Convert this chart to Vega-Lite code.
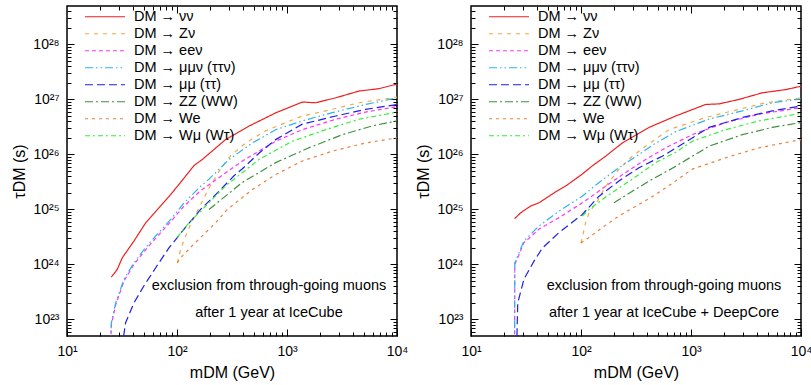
{
  "$schema": "https://vega.github.io/schema/vega-lite/v6.json",
  "padding": {"left": 11, "top": 3, "right": 0, "bottom": 0},
  "config": {
    "font": "Liberation Sans",
    "view": {"stroke": "black", "strokeWidth": 1.5},
    "axis": {"grid": false, "domain": false, "tickColor": "black", "labelColor": "black", "titleColor": "black", "labelFontSize": 14, "titleFontSize": 16, "titleFontWeight": "normal", "labelOverlap": false, "labelFlush": false, "tickWidth": 1},
    "legend": {"title": null, "orient": "none", "legendX": 17, "legendY": 4, "padding": 0, "symbolType": "stroke", "symbolSize": 1600, "symbolStrokeWidth": 1.2, "labelFontSize": 14.5, "labelOffset": 8, "rowPadding": 1, "clipHeight": 13.5, "labelColor": "black"}
  },
  "datasets": {
    "L": [
      {"s":"DM → νν","m":25.3,"t":5.9e23},{"s":"DM → νν","m":28.6,"t":8.1e23},{"s":"DM → νν","m":31.8,"t":1.32e24},{"s":"DM → νν","m":40.6,"t":2.66e24},{"s":"DM → νν","m":51.9,"t":5.7e24},{"s":"DM → νν","m":68.5,"t":1.07e25},{"s":"DM → νν","m":87.7,"t":1.87e25},{"s":"DM → νν","m":111.7,"t":3.39e25},{"s":"DM → νν","m":142.9,"t":6.3e25},{"s":"DM → νν","m":169.8,"t":8.1e25},{"s":"DM → νν","m":277,"t":1.87e26},{"s":"DM → νν","m":452,"t":3.28e26},{"s":"DM → νν","m":789,"t":5.7e26},{"s":"DM → νν","m":1377,"t":8.97e26},{"s":"DM → νν","m":1824,"t":8.7e26},{"s":"DM → νν","m":2773,"t":1.07e27},{"s":"DM → νν","m":4519,"t":1.42e27},{"s":"DM → νν","m":6855,"t":1.57e27},{"s":"DM → νν","m":10000,"t":1.9e27},
      {"s":"DM → Zν","m":100.7,"t":1.07e24},{"s":"DM → Zν","m":107.9,"t":1.86e24},{"s":"DM → Zν","m":115.9,"t":2.8e24},{"s":"DM → Zν","m":131.2,"t":5.0e24},{"s":"DM → Zν","m":158.5,"t":1.07e25},{"s":"DM → Zν","m":195.4,"t":2.45e25},{"s":"DM → Zν","m":249.5,"t":5.5e25},{"s":"DM → Zν","m":307.6,"t":9.5e25},{"s":"DM → Zν","m":420.7,"t":1.62e26},{"s":"DM → Zν","m":639.7,"t":2.69e26},{"s":"DM → Zν","m":1377,"t":5.0e26},{"s":"DM → Zν","m":2249,"t":6.2e26},{"s":"DM → Zν","m":4519,"t":8.7e26},{"s":"DM → Zν","m":10000,"t":1.1e27},
      {"s":"DM → eeν","m":24.9,"t":3e22},{"s":"DM → eeν","m":25.3,"t":8e22},{"s":"DM → eeν","m":27.7,"t":1.85e23},{"s":"DM → eeν","m":33.0,"t":5.0e23},{"s":"DM → eeν","m":40.6,"t":1.0e24},{"s":"DM → eeν","m":50.1,"t":1.7e24},{"s":"DM → eeν","m":64,"t":3.0e24},{"s":"DM → eeν","m":87.7,"t":6.0e24},{"s":"DM → eeν","m":115.9,"t":1.15e25},{"s":"DM → eeν","m":164,"t":2.2e25},{"s":"DM → eeν","m":195.4,"t":2.82e25},{"s":"DM → eeν","m":393,"t":7.6e25},{"s":"DM → eeν","m":789,"t":1.74e26},{"s":"DM → eeν","m":1377,"t":2.82e26},{"s":"DM → eeν","m":2773,"t":4.37e26},{"s":"DM → eeν","m":5188,"t":5.9e26},{"s":"DM → eeν","m":10000,"t":7.4e26},
      {"s":"DM → μμν (ττν)","m":24.9,"t":3e22},{"s":"DM → μμν (ττν)","m":25.3,"t":8.7e22},{"s":"DM → μμν (ττν)","m":27.7,"t":2.0e23},{"s":"DM → μμν (ττν)","m":33.0,"t":5.4e23},{"s":"DM → μμν (ττν)","m":40.6,"t":1.07e24},{"s":"DM → μμν (ττν)","m":50.1,"t":1.86e24},{"s":"DM → μμν (ττν)","m":64.0,"t":3.3e24},{"s":"DM → μμν (ττν)","m":87.7,"t":6.6e24},{"s":"DM → μμν (ττν)","m":115.9,"t":1.32e25},{"s":"DM → μμν (ττν)","m":164,"t":2.63e25},{"s":"DM → μμν (ττν)","m":195.4,"t":3.55e25},{"s":"DM → μμν (ττν)","m":297,"t":8.1e25},{"s":"DM → μμν (ττν)","m":484,"t":1.62e26},{"s":"DM → μμν (ττν)","m":789,"t":2.82e26},{"s":"DM → μμν (ττν)","m":1377,"t":4.07e26},{"s":"DM → μμν (ττν)","m":2582,"t":5.75e26},{"s":"DM → μμν (ττν)","m":5188,"t":8.1e26},{"s":"DM → μμν (ττν)","m":10000,"t":1.07e27},
      {"s":"DM → μμ (ττ)","m":31.5,"t":3e22},{"s":"DM → μμ (ττ)","m":34.1,"t":8.7e22},{"s":"DM → μμ (ττ)","m":40.6,"t":2.0e23},{"s":"DM → μμ (ττ)","m":50.1,"t":4.1e23},{"s":"DM → μμ (ττ)","m":64.0,"t":8.7e23},{"s":"DM → μμ (ττ)","m":84.5,"t":2.0e24},{"s":"DM → μμ (ττ)","m":115.9,"t":4.4e24},{"s":"DM → μμ (ττ)","m":164,"t":1.0e25},{"s":"DM → μμ (ττ)","m":233,"t":2.0e25},{"s":"DM → μμ (ττ)","m":330,"t":4.1e25},{"s":"DM → μμ (ττ)","m":393,"t":5.5e25},{"s":"DM → μμ (ττ)","m":562,"t":1.07e26},{"s":"DM → μμ (ττ)","m":789,"t":1.86e26},{"s":"DM → μμ (ττ)","m":1377,"t":3.55e26},{"s":"DM → μμ (ττ)","m":2773,"t":5.0e26},{"s":"DM → μμ (ττ)","m":5188,"t":6.6e26},{"s":"DM → μμ (ττ)","m":10000,"t":8.1e26},
      {"s":"DM → ZZ (WW)","m":195.4,"t":1.0e25},{"s":"DM → ZZ (WW)","m":393,"t":3.1e25},{"s":"DM → ZZ (WW)","m":789,"t":7.1e25},{"s":"DM → ZZ (WW)","m":1585,"t":1.32e26},{"s":"DM → ZZ (WW)","m":3184,"t":2.29e26},{"s":"DM → ZZ (WW)","m":5970,"t":3.31e26},{"s":"DM → ZZ (WW)","m":10000,"t":4.07e26},
      {"s":"DM → We","m":100.7,"t":1.07e24},{"s":"DM → We","m":107.9,"t":1.32e24},{"s":"DM → We","m":137.7,"t":2.2e24},{"s":"DM → We","m":169.8,"t":3.3e24},{"s":"DM → We","m":224.9,"t":5.75e24},{"s":"DM → We","m":287.1,"t":1.0e25},{"s":"DM → We","m":484,"t":2.3e25},{"s":"DM → We","m":789,"t":4.3e25},{"s":"DM → We","m":1377,"t":7.6e25},{"s":"DM → We","m":2582,"t":1.15e26},{"s":"DM → We","m":5188,"t":1.62e26},{"s":"DM → We","m":10000,"t":2.0e26},
      {"s":"DM → Wμ (Wτ)","m":100.7,"t":3.1e24},{"s":"DM → Wμ (Wτ)","m":128.5,"t":5.75e24},{"s":"DM → Wμ (Wτ)","m":169.8,"t":1.0e25},{"s":"DM → Wμ (Wτ)","m":277,"t":2.7e25},{"s":"DM → Wμ (Wτ)","m":556,"t":8.1e25},{"s":"DM → Wμ (Wτ)","m":1117,"t":1.74e26},{"s":"DM → Wμ (Wτ)","m":2249,"t":2.82e26},{"s":"DM → Wμ (Wτ)","m":4519,"t":4.37e26},{"s":"DM → Wμ (Wτ)","m":10000,"t":5.9e26}
    ],
    "R": [
      {"s":"DM → νν","m":24.9,"t":6.8e24},{"s":"DM → νν","m":28.3,"t":8.7e24},{"s":"DM → νν","m":34.8,"t":1.15e25},{"s":"DM → νν","m":41.5,"t":1.32e25},{"s":"DM → νν","m":56.9,"t":2.0e25},{"s":"DM → νν","m":75.2,"t":2.8e25},{"s":"DM → νν","m":102.8,"t":4.4e25},{"s":"DM → νν","m":126.8,"t":6.2e25},{"s":"DM → νν","m":167.5,"t":9.3e25},{"s":"DM → νν","m":237.7,"t":1.62e26},{"s":"DM → νν","m":415,"t":3.1e26},{"s":"DM → νν","m":726,"t":5.0e26},{"s":"DM → νν","m":1358,"t":8.1e26},{"s":"DM → νν","m":1799,"t":8.3e26},{"s":"DM → νν","m":2729,"t":1.0e27},{"s":"DM → νν","m":4446,"t":1.32e27},{"s":"DM → νν","m":7261,"t":1.51e27},{"s":"DM → νν","m":10000,"t":1.74e27},
      {"s":"DM → Zν","m":100,"t":2.45e24},{"s":"DM → Zν","m":110.2,"t":5.75e24},{"s":"DM → Zν","m":118.3,"t":8.7e24},{"s":"DM → Zν","m":140.6,"t":1.41e25},{"s":"DM → Zν","m":167.5,"t":2.63e25},{"s":"DM → Zν","m":221.3,"t":5.4e25},{"s":"DM → Zν","m":293,"t":9.3e25},{"s":"DM → Zν","m":387,"t":1.41e26},{"s":"DM → Zν","m":631,"t":2.82e26},{"s":"DM → Zν","m":1358,"t":4.7e26},{"s":"DM → Zν","m":2729,"t":6.6e26},{"s":"DM → Zν","m":4775,"t":8.7e26},{"s":"DM → Zν","m":10000,"t":1.07e27},
      {"s":"DM → eeν","m":24.9,"t":3e22},{"s":"DM → eeν","m":25,"t":1.0e24},{"s":"DM → eeν","m":27.3,"t":1.5e24},{"s":"DM → eeν","m":30.3,"t":2.5e24},{"s":"DM → eeν","m":33.7,"t":3.0e24},{"s":"DM → eeν","m":41.5,"t":4.4e24},{"s":"DM → eeν","m":63.1,"t":7.1e24},{"s":"DM → eeν","m":102.8,"t":1.32e25},{"s":"DM → eeν","m":167.5,"t":2.63e25},{"s":"DM → eeν","m":254.7,"t":4.7e25},{"s":"DM → eeν","m":387,"t":8.1e25},{"s":"DM → eeν","m":589,"t":1.32e26},{"s":"DM → eeν","m":1028,"t":2.29e26},{"s":"DM → eeν","m":2065,"t":3.8e26},{"s":"DM → eeν","m":4150,"t":5.4e26},{"s":"DM → eeν","m":10000,"t":7.1e26},
      {"s":"DM → μμν (ττν)","m":24.9,"t":3e22},{"s":"DM → μμν (ττν)","m":25,"t":1.07e24},{"s":"DM → μμν (ττν)","m":27.3,"t":1.62e24},{"s":"DM → μμν (ττν)","m":30.3,"t":2.7e24},{"s":"DM → μμν (ττν)","m":33.7,"t":3.3e24},{"s":"DM → μμν (ττν)","m":41.5,"t":5.0e24},{"s":"DM → μμν (ττν)","m":63.1,"t":9.3e24},{"s":"DM → μμν (ττν)","m":102.8,"t":1.74e25},{"s":"DM → μμν (ττν)","m":145.9,"t":3.1e25},{"s":"DM → μμν (ττν)","m":221.3,"t":5.75e25},{"s":"DM → μμν (ττν)","m":336.5,"t":1.0e26},{"s":"DM → μμν (ττν)","m":447,"t":1.48e26},{"s":"DM → μμν (ττν)","m":726,"t":2.6e26},{"s":"DM → μμν (ττν)","m":1459,"t":4.4e26},{"s":"DM → μμν (ττν)","m":2931,"t":6.2e26},{"s":"DM → μμν (ττν)","m":5483,"t":8.7e26},{"s":"DM → μμν (ττν)","m":10000,"t":1.02e27},
      {"s":"DM → μμ (ττ)","m":26,"t":3e22},{"s":"DM → μμ (ττ)","m":26.6,"t":2.0e23},{"s":"DM → μμ (ττ)","m":30.3,"t":5.4e23},{"s":"DM → μμ (ττ)","m":37.4,"t":1.15e24},{"s":"DM → μμ (ττ)","m":44.7,"t":2.0e24},{"s":"DM → μμ (ττ)","m":63.1,"t":3.8e24},{"s":"DM → μμ (ττ)","m":102.8,"t":8.1e24},{"s":"DM → μμ (ττ)","m":145.9,"t":1.74e25},{"s":"DM → μμ (ττ)","m":221.3,"t":3.3e25},{"s":"DM → μμ (ττ)","m":336.5,"t":5.75e25},{"s":"DM → μμ (ττ)","m":548,"t":9.3e25},{"s":"DM → μμ (ττ)","m":726,"t":1.3e26},{"s":"DM → μμ (ττ)","m":1459,"t":3.1e26},{"s":"DM → μμ (ττ)","m":2931,"t":4.7e26},{"s":"DM → μμ (ττ)","m":5483,"t":6.2e26},{"s":"DM → μμ (ττ)","m":10000,"t":7.6e26},
      {"s":"DM → ZZ (WW)","m":199.5,"t":1.32e25},{"s":"DM → ZZ (WW)","m":293,"t":2.14e25},{"s":"DM → ZZ (WW)","m":445,"t":3.55e25},{"s":"DM → ZZ (WW)","m":676,"t":5.6e25},{"s":"DM → ZZ (WW)","m":1459,"t":1.41e26},{"s":"DM → ZZ (WW)","m":2931,"t":2.29e26},{"s":"DM → ZZ (WW)","m":5483,"t":3.1e26},{"s":"DM → ZZ (WW)","m":10000,"t":3.8e26},
      {"s":"DM → We","m":100,"t":2.45e24},{"s":"DM → We","m":118.3,"t":3.1e24},{"s":"DM → We","m":156.3,"t":4.7e24},{"s":"DM → We","m":221.3,"t":7.6e24},{"s":"DM → We","m":336.5,"t":1.23e25},{"s":"DM → We","m":477.5,"t":1.86e25},{"s":"DM → We","m":676,"t":3.0e25},{"s":"DM → We","m":1028,"t":5.4e25},{"s":"DM → We","m":2065,"t":8.7e25},{"s":"DM → We","m":4150,"t":1.32e26},{"s":"DM → We","m":10000,"t":1.86e26},
      {"s":"DM → Wμ (Wτ)","m":102.8,"t":7.6e24},{"s":"DM → Wμ (Wτ)","m":118.3,"t":1.0e25},{"s":"DM → Wμ (Wτ)","m":180,"t":1.86e25},{"s":"DM → Wμ (Wτ)","m":293,"t":3.55e25},{"s":"DM → Wμ (Wτ)","m":477.5,"t":7.1e25},{"s":"DM → Wμ (Wτ)","m":726,"t":1.1e26},{"s":"DM → Wμ (Wτ)","m":1028,"t":1.74e26},{"s":"DM → Wμ (Wτ)","m":2065,"t":2.82e26},{"s":"DM → Wμ (Wτ)","m":4150,"t":4.07e26},{"s":"DM → Wμ (Wτ)","m":10000,"t":5.6e26}
    ],
    "TL": [
      {"m": 686, "t": 4.1e23, "txt": "exclusion from through-going muons"},
      {"m": 686, "t": 1.32e23, "txt": "after 1 year at IceCube"}
    ],
    "TR": [
      {"m": 569, "t": 4.1e23, "txt": "exclusion from through-going muons"},
      {"m": 569, "t": 1.32e23, "txt": "after 1 year at IceCube + DeepCore"}
    ]
  },
  "spacing": 74,
  "bounds": "flush",
  "resolve": {"legend": {"color": "independent", "strokeDash": "independent"}},
  "hconcat": [
    {
      "width": 330, "height": 330,
      "resolve": {"scale": {"x": "independent", "y": "independent"}, "axis": {"x": "independent", "y": "independent"}},
      "layer": [
        {
          "layer": [
            {
              "data": {"name": "L"},
              "mark": {"type": "line", "clip": true, "strokeWidth": 1.2},
              "encoding": {
                "x": {"field": "m", "type": "quantitative", "scale": {"type": "log", "domain": [10, 10000], "nice": false},
                  "axis": {"values": [10,20,30,40,50,60,70,80,90,100,200,300,400,500,600,700,800,900,1000,2000,3000,4000,5000,6000,7000,8000,9000,10000],
                    "labelExpr": "abs(log(datum.value)/LN10 - round(log(datum.value)/LN10)) < 0.001 ? ['10¹','10²','10³','10⁴'][round(log(datum.value)/LN10)-1] : ''",
                    "tickSize": {"condition": {"test": "abs(log(datum.value)/LN10 - round(log(datum.value)/LN10)) < 0.001", "value": -7}, "value": -4},
                    "labelPadding": 15, "title": "mDM (GeV)", "titlePadding": 3}},
                "y": {"field": "t", "type": "quantitative", "scale": {"type": "log", "domain": [5e22, 5e28], "nice": false},
                  "axis": {"values": [6e22,7e22,8e22,9e22,1e23,2e23,3e23,4e23,5e23,6e23,7e23,8e23,9e23,1e24,2e24,3e24,4e24,5e24,6e24,7e24,8e24,9e24,1e25,2e25,3e25,4e25,5e25,6e25,7e25,8e25,9e25,1e26,2e26,3e26,4e26,5e26,6e26,7e26,8e26,9e26,1e27,2e27,3e27,4e27,5e27,6e27,7e27,8e27,9e27,1e28,2e28,3e28,4e28],
                    "labelExpr": "abs(log(datum.value)/LN10 - round(log(datum.value)/LN10)) < 0.001 ? ['10²³','10²⁴','10²⁵','10²⁶','10²⁷','10²⁸'][round(log(datum.value)/LN10)-23] : ''",
                    "tickSize": {"condition": {"test": "abs(log(datum.value)/LN10 - round(log(datum.value)/LN10)) < 0.001", "value": -7}, "value": -4},
                    "labelPadding": 15, "title": "τDM (s)", "titlePadding": 5}},
                "color": {"field": "s", "type": "nominal",
                  "scale": {"domain": ["DM → νν","DM → Zν","DM → eeν","DM → μμν (ττν)","DM → μμ (ττ)","DM → ZZ (WW)","DM → We","DM → Wμ (Wτ)"],
                    "range": ["#f01e1e","#f4a742","#ff33ff","#2bb3ee","#1f1fe6","#3e913e","#e8823c","#33f033"]}},
                "strokeDash": {"field": "s", "type": "nominal",
                  "scale": {"domain": ["DM → νν","DM → Zν","DM → eeν","DM → μμν (ττν)","DM → μμ (ττ)","DM → ZZ (WW)","DM → We","DM → Wμ (Wτ)"],
                    "range": [[1,0],[4,5],[4,3],[8,3,1.5,3,1.5,3],[8,4],[8,3,2,3],[3,4],[5,3,2,3]]}}
              }
            },
            {
              "data": {"name": "TL"},
              "mark": {"type": "text", "fontSize": 14.5, "color": "black"},
              "encoding": {
                "x": {"field": "m", "type": "quantitative", "scale": {"type": "log", "domain": [10, 10000], "nice": false}},
                "y": {"field": "t", "type": "quantitative", "scale": {"type": "log", "domain": [5e22, 5e28], "nice": false}},
                "text": {"field": "txt"}
              }
            }
          ]
        },
        {
          "data": {"name": "L"},
          "mark": {"type": "point", "opacity": 0},
          "encoding": {
            "x": {"field": "m", "type": "quantitative", "scale": {"type": "log", "domain": [10, 10000], "nice": false},
              "axis": {"orient": "top", "labels": false, "title": null, "values": [20,30,40,50,60,70,80,90,100,200,300,400,500,600,700,800,900,1000,2000,3000,4000,5000,6000,7000,8000,9000],
                "tickSize": {"condition": {"test": "abs(log(datum.value)/LN10 - round(log(datum.value)/LN10)) < 0.001", "value": -7}, "value": -4}}},
            "y": {"field": "t", "type": "quantitative", "scale": {"type": "log", "domain": [5e22, 5e28], "nice": false},
              "axis": {"orient": "right", "labels": false, "title": null, "values": [6e22,7e22,8e22,9e22,1e23,2e23,3e23,4e23,5e23,6e23,7e23,8e23,9e23,1e24,2e24,3e24,4e24,5e24,6e24,7e24,8e24,9e24,1e25,2e25,3e25,4e25,5e25,6e25,7e25,8e25,9e25,1e26,2e26,3e26,4e26,5e26,6e26,7e26,8e26,9e26,1e27,2e27,3e27,4e27,5e27,6e27,7e27,8e27,9e27,1e28,2e28,3e28,4e28],
                "tickSize": {"condition": {"test": "abs(log(datum.value)/LN10 - round(log(datum.value)/LN10)) < 0.001", "value": -7}, "value": -4}}}
          }
        }
      ]
    },
    {
      "width": 330, "height": 330,
      "resolve": {"scale": {"x": "independent", "y": "independent"}, "axis": {"x": "independent", "y": "independent"}},
      "layer": [
        {
          "layer": [
            {
              "data": {"name": "R"},
              "mark": {"type": "line", "clip": true, "strokeWidth": 1.2},
              "encoding": {
                "x": {"field": "m", "type": "quantitative", "scale": {"type": "log", "domain": [10, 10000], "nice": false},
                  "axis": {"values": [10,20,30,40,50,60,70,80,90,100,200,300,400,500,600,700,800,900,1000,2000,3000,4000,5000,6000,7000,8000,9000,10000],
                    "labelExpr": "abs(log(datum.value)/LN10 - round(log(datum.value)/LN10)) < 0.001 ? ['10¹','10²','10³','10⁴'][round(log(datum.value)/LN10)-1] : ''",
                    "tickSize": {"condition": {"test": "abs(log(datum.value)/LN10 - round(log(datum.value)/LN10)) < 0.001", "value": -7}, "value": -4},
                    "labelPadding": 15, "title": "mDM (GeV)", "titlePadding": 3}},
                "y": {"field": "t", "type": "quantitative", "scale": {"type": "log", "domain": [5e22, 5e28], "nice": false},
                  "axis": {"values": [6e22,7e22,8e22,9e22,1e23,2e23,3e23,4e23,5e23,6e23,7e23,8e23,9e23,1e24,2e24,3e24,4e24,5e24,6e24,7e24,8e24,9e24,1e25,2e25,3e25,4e25,5e25,6e25,7e25,8e25,9e25,1e26,2e26,3e26,4e26,5e26,6e26,7e26,8e26,9e26,1e27,2e27,3e27,4e27,5e27,6e27,7e27,8e27,9e27,1e28,2e28,3e28,4e28],
                    "labelExpr": "abs(log(datum.value)/LN10 - round(log(datum.value)/LN10)) < 0.001 ? ['10²³','10²⁴','10²⁵','10²⁶','10²⁷','10²⁸'][round(log(datum.value)/LN10)-23] : ''",
                    "tickSize": {"condition": {"test": "abs(log(datum.value)/LN10 - round(log(datum.value)/LN10)) < 0.001", "value": -7}, "value": -4},
                    "labelPadding": 15, "title": "τDM (s)", "titlePadding": 5}},
                "color": {"field": "s", "type": "nominal",
                  "scale": {"domain": ["DM → νν","DM → Zν","DM → eeν","DM → μμν (ττν)","DM → μμ (ττ)","DM → ZZ (WW)","DM → We","DM → Wμ (Wτ)"],
                    "range": ["#f01e1e","#f4a742","#ff33ff","#2bb3ee","#1f1fe6","#3e913e","#e8823c","#33f033"]}},
                "strokeDash": {"field": "s", "type": "nominal",
                  "scale": {"domain": ["DM → νν","DM → Zν","DM → eeν","DM → μμν (ττν)","DM → μμ (ττ)","DM → ZZ (WW)","DM → We","DM → Wμ (Wτ)"],
                    "range": [[1,0],[4,5],[4,3],[8,3,1.5,3,1.5,3],[8,4],[8,3,2,3],[3,4],[5,3,2,3]]}}
              }
            },
            {
              "data": {"name": "TR"},
              "mark": {"type": "text", "fontSize": 14.5, "color": "black"},
              "encoding": {
                "x": {"field": "m", "type": "quantitative", "scale": {"type": "log", "domain": [10, 10000], "nice": false}},
                "y": {"field": "t", "type": "quantitative", "scale": {"type": "log", "domain": [5e22, 5e28], "nice": false}},
                "text": {"field": "txt"}
              }
            }
          ]
        },
        {
          "data": {"name": "R"},
          "mark": {"type": "point", "opacity": 0},
          "encoding": {
            "x": {"field": "m", "type": "quantitative", "scale": {"type": "log", "domain": [10, 10000], "nice": false},
              "axis": {"orient": "top", "labels": false, "title": null, "values": [20,30,40,50,60,70,80,90,100,200,300,400,500,600,700,800,900,1000,2000,3000,4000,5000,6000,7000,8000,9000],
                "tickSize": {"condition": {"test": "abs(log(datum.value)/LN10 - round(log(datum.value)/LN10)) < 0.001", "value": -7}, "value": -4}}},
            "y": {"field": "t", "type": "quantitative", "scale": {"type": "log", "domain": [5e22, 5e28], "nice": false},
              "axis": {"orient": "right", "labels": false, "title": null, "values": [6e22,7e22,8e22,9e22,1e23,2e23,3e23,4e23,5e23,6e23,7e23,8e23,9e23,1e24,2e24,3e24,4e24,5e24,6e24,7e24,8e24,9e24,1e25,2e25,3e25,4e25,5e25,6e25,7e25,8e25,9e25,1e26,2e26,3e26,4e26,5e26,6e26,7e26,8e26,9e26,1e27,2e27,3e27,4e27,5e27,6e27,7e27,8e27,9e27,1e28,2e28,3e28,4e28],
                "tickSize": {"condition": {"test": "abs(log(datum.value)/LN10 - round(log(datum.value)/LN10)) < 0.001", "value": -7}, "value": -4}}}
          }
        }
      ]
    }
  ]
}
